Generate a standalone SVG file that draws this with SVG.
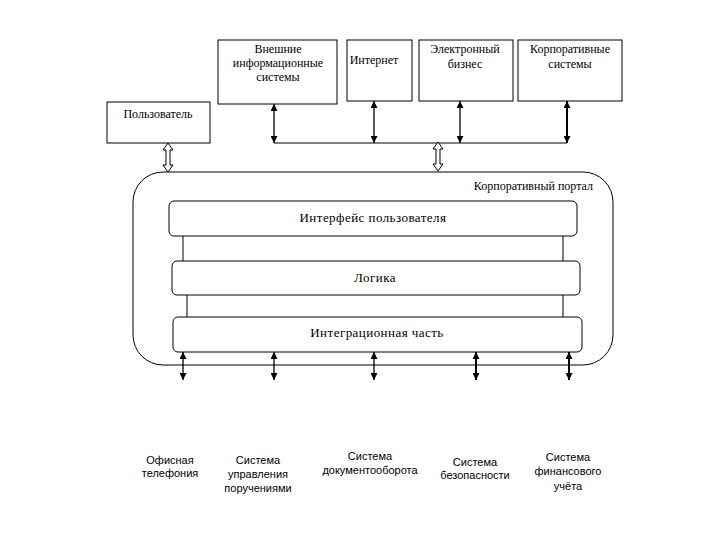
<svg xmlns="http://www.w3.org/2000/svg" width="720" height="540" viewBox="0 0 720 540">
<defs>
<marker id="ah" viewBox="0 0 8 8" markerWidth="7" markerHeight="7" refX="8" refY="4" orient="auto-start-reverse" markerUnits="userSpaceOnUse">
<path d="M0,0 L8,4 L0,8 z" fill="#000"/>
</marker>
<style>
.box{fill:#fff;stroke:#000;stroke-width:1}
.t{font-family:'Liberation Serif','Times New Roman',serif;font-size:12px;fill:#000;text-anchor:middle}
.ti{font-family:'Liberation Serif','Times New Roman',serif;font-size:13px;letter-spacing:0.45px;fill:#000;text-anchor:middle}
.s{font-family:'Liberation Sans',Arial,sans-serif;font-size:11px;fill:#000;text-anchor:middle}
.c{stroke:#000;stroke-width:1;fill:none}
.ca{stroke:#000;stroke-width:1.3;fill:none;marker-start:url(#ah);marker-end:url(#ah)}
.cb{stroke:#000;stroke-width:2;fill:none;marker-start:url(#ah);marker-end:url(#ah)}
.h{fill:#fff;stroke:#000;stroke-width:1}
</style>
</defs>
<rect width="720" height="540" fill="#fff"/>

<g id="ext">
<rect class="box" x="218" y="40" width="119" height="64"/>
<text class="t" x="278" y="53">Внешние</text>
<text class="t" x="278" y="67">информационные</text>
<text class="t" x="278" y="81">системы</text>
</g>
<g id="internet">
<rect class="box" x="347" y="40" width="65" height="61"/>
<text class="t" x="374" y="64">Интернет</text>
</g>
<g id="ebiz">
<rect class="box" x="419" y="40" width="94" height="61"/>
<text class="t" x="465" y="53">Электронный</text>
<text class="t" x="465" y="68">бизнес</text>
</g>
<g id="corpsys">
<rect class="box" x="518" y="40" width="104" height="61"/>
<text class="t" x="570" y="53">Корпоративные</text>
<text class="t" x="570" y="68">системы</text>
</g>
<g id="user">
<rect class="box" x="107" y="102" width="103" height="41"/>
<text class="t" x="158" y="118">Пользователь</text>
</g>

<g id="portal">
<rect class="box" x="133" y="172" width="480" height="193" rx="30" ry="30"/>
<text class="t" x="593" y="190" style="text-anchor:end">Корпоративный портал</text>
</g>

<g id="links">
<line class="c" x1="183" y1="236" x2="183" y2="262"/>
<line class="c" x1="563" y1="236" x2="563" y2="262"/>
<line class="c" x1="187" y1="295" x2="187" y2="318"/>
<line class="c" x1="563" y1="295" x2="563" y2="318"/>
</g>

<g id="ui">
<rect class="box" x="169" y="201" width="408" height="35" rx="5" ry="5"/>
<text class="ti" x="373" y="222">Интерфейс пользователя</text>
</g>
<g id="logic">
<rect class="box" x="172" y="261" width="408" height="34" rx="5" ry="5"/>
<text class="ti" x="375" y="282">Логика</text>
</g>
<g id="integr">
<rect class="box" x="173" y="317" width="409" height="35" rx="5" ry="5"/>
<text class="ti" x="377" y="337">Интеграционная часть</text>
</g>

<g id="connectors">
<line class="c" x1="274" y1="143" x2="567" y2="143"/>
<line class="ca" x1="274" y1="104" x2="274" y2="143"/>
<line class="ca" x1="374" y1="101" x2="374" y2="143"/>
<line class="ca" x1="460" y1="101" x2="460" y2="143"/>
<line class="cb" x1="567" y1="101" x2="567" y2="143"/>
<path class="h" d="M168,143 L173,150 L170,150 L170,165 L173,165 L168,172 L163,165 L166,165 L166,150 L163,150 Z"/>
<path class="h" d="M438,142 L443,149 L440,149 L440,164 L443,164 L438,171 L433,164 L436,164 L436,149 L433,149 Z"/>
<line class="ca" x1="183" y1="352" x2="183" y2="380"/>
<line class="ca" x1="274" y1="352" x2="274" y2="380"/>
<line class="ca" x1="374" y1="352" x2="374" y2="380"/>
<line class="cb" x1="476" y1="352" x2="476" y2="380"/>
<line class="cb" x1="569" y1="352" x2="569" y2="380"/>
</g>

<g id="tel">
<text class="s" x="170" y="464">Офисная</text>
<text class="s" x="170" y="477">телефония</text>
</g>
<g id="tasks">
<text class="s" x="258" y="464">Система</text>
<text class="s" x="258" y="478">управления</text>
<text class="s" x="258" y="492">поручениями</text>
</g>
<g id="docs">
<text class="s" x="370" y="460">Система</text>
<text class="s" x="370" y="474">документооборота</text>
</g>
<g id="sec">
<text class="s" x="475" y="466">Система</text>
<text class="s" x="475" y="479">безопасности</text>
</g>
<g id="fin">
<text class="s" x="568" y="461">Система</text>
<text class="s" x="568" y="475">финансового</text>
<text class="s" x="568" y="490">учёта</text>
</g>
</svg>
